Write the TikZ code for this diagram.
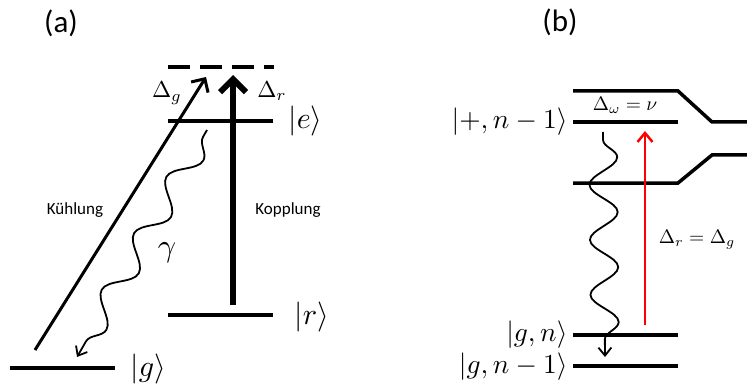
\documentclass[tikz,border=0pt]{standalone}
\usepackage{amsmath}
\usepackage{fontspec}
\newfontfamily\calibri{Carlito}
\usetikzlibrary{arrows.meta,decorations.pathmorphing}

\begin{document}
\begin{tikzpicture}[
  x=1pt, y=-1pt,
  every node/.style={inner sep=0pt},
  level/.style={line width=3.5pt},
  ket/.style={font=\fontsize{10}{12}\selectfont, scale=2.75},
  keta/.style={font=\fontsize{10}{12}\selectfont, scale=3.0},
  dlabel/.style={font=\fontsize{10}{12}\selectfont, scale=1.95},
  dlabela/.style={font=\fontsize{10}{12}\selectfont, scale=2.3},
  gammalabel/.style={font=\fontsize{10}{12}\selectfont, scale=3.2},
  sflabel/.style={font=\calibri\fontsize{17}{20}\selectfont},
  panel/.style={font=\calibri\fontsize{31}{36}\selectfont},
  wave/.style={line width=1.8pt, decorate,
    decoration={snake, amplitude=13pt, pre length=8pt, post length=6pt},
    -{Straight Barb[length=8pt,width=13pt]}},
]

% Picture frame: 1 unit = 1 pixel of the original
\useasboundingbox (0,0) rectangle (747,385);

% ---------------- Panel (a) ----------------
\node[panel] (pa) at (61,23) {(a)};

% Levels
\draw[level, dash pattern=on 22pt off 10pt] (168,67) -- (274,67);
\draw[level] (168,121) -- (273,121);
\draw[level] (168,315) -- (273,315);
\draw[level] (10,368) -- (115,368);

% Level labels
\node[keta, anchor=west] (e) at (288,121) {$|e\rangle$};
\node[keta, anchor=west] (r) at (294,317) {$|r\rangle$};
\node[keta, anchor=west] (g) at (130,369) {$|g\rangle$};
\node[dlabela] (dg) at (167,93) {$\Delta_g$};
\node[dlabela] (dr) at (272,91) {$\Delta_r$};

% Transitions
\coordinate (kstart) at (35,350);
\coordinate (kend) at (206,77);
\coordinate (cstart) at (233,305);
\coordinate (cend) at (233,75);
\coordinate (wstart) at (207,130);
\coordinate (wend) at (77,357);

\draw[line width=3pt, -{Straight Barb[length=10pt,width=20pt]}] (kstart) -- (kend);
\draw[line width=6pt, -{Straight Barb[length=13pt,width=26pt]}] (cstart) -- (cend);
\draw[wave, decoration={segment length=65pt, amplitude=12pt}] (wstart) -- (wend);

\node[sflabel] (kuehl) at (75,210) {Kühlung};
\node[sflabel] (kopp) at (288,210) {Kopplung};
\node[gammalabel] (gam) at (167,253) {$\gamma$};

% ---------------- Panel (b) ----------------
\node[panel] (pb) at (560,22) {(b)};

% Levels
\draw[level] (573,91) -- (678,91) -- (712,122) -- (747,122);
\draw[level] (573,122) -- (678,122);
\draw[level] (573,183) -- (678,183) -- (712,155) -- (747,155);
\draw[level] (573,335) -- (678,335);
\draw[level] (573,366) -- (678,366);

% Level labels
\node[ket, anchor=east] (plus) at (568,122) {$|{+},n-1\rangle$};
\node[ket, anchor=east] (gn) at (568,335) {$|g,n\rangle$};
\node[ket, anchor=east] (gn1) at (568,367) {$|g,n-1\rangle$};
\node[dlabel] (dw) at (625,105) {$\Delta_\omega=\nu$};
\node[dlabel] (drg) at (697,240) {$\Delta_r=\Delta_g$};

% Transitions
\coordinate (rstart) at (645,325);
\coordinate (rend) at (645,131);
\coordinate (vstart) at (603,132);
\coordinate (vend) at (605,357);

\draw[red, line width=2.5pt, -{Straight Barb[length=9pt,width=15pt]}] (rstart) -- (rend);
\draw[wave, decoration={segment length=55pt, amplitude=14pt}] (vstart) -- (vend);

\end{tikzpicture}
\end{document}
